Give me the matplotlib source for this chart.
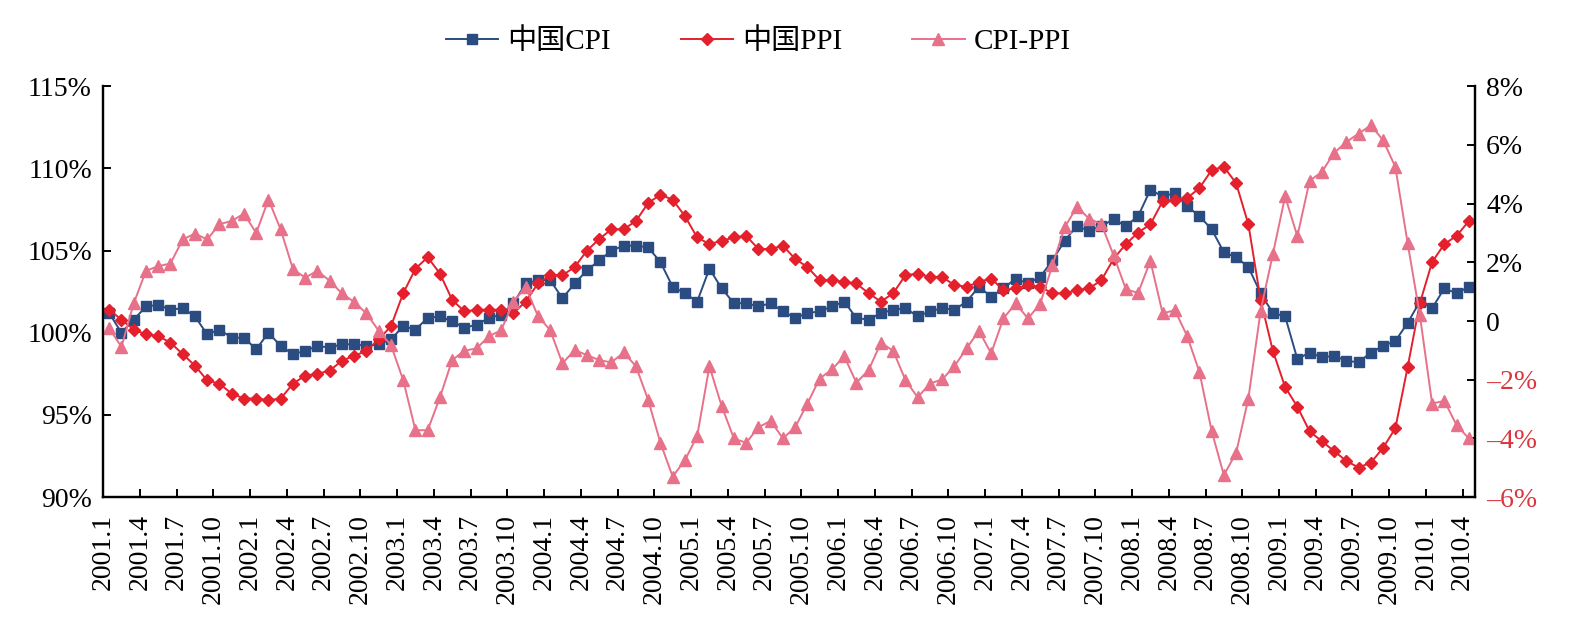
import numpy as np
import matplotlib
matplotlib.use("Agg")
import matplotlib.pyplot as plt
from matplotlib.lines import Line2D

# 2001.1 - 2010.4, monthly, YoY index (prev. year = 100)
cpi = [101.2, 100.0, 100.8, 101.6, 101.7, 101.4, 101.5, 101.0, 99.9, 100.2, 99.7, 99.7,
       99.0, 100.0, 99.2, 98.7, 98.9, 99.2, 99.1, 99.3, 99.3, 99.2, 99.3, 99.6,
       100.4, 100.2, 100.9, 101.0, 100.7, 100.3, 100.5, 100.9, 101.1, 101.8, 103.0, 103.2,
       103.2, 102.1, 103.0, 103.8, 104.4, 105.0, 105.3, 105.3, 105.2, 104.3, 102.8, 102.4,
       101.9, 103.9, 102.7, 101.8, 101.8, 101.6, 101.8, 101.3, 100.9, 101.2, 101.3, 101.6,
       101.9, 100.9, 100.8, 101.2, 101.4, 101.5, 101.0, 101.3, 101.5, 101.4, 101.9, 102.8,
       102.2, 102.7, 103.3, 103.0, 103.4, 104.4, 105.6, 106.5, 106.2, 106.5, 106.9, 106.5,
       107.1, 108.7, 108.3, 108.5, 107.7, 107.1, 106.3, 104.9, 104.6, 104.0, 102.4, 101.2,
       101.0, 98.4, 98.8, 98.5, 98.6, 98.3, 98.2, 98.8, 99.2, 99.5, 100.6, 101.9,
       101.5, 102.7, 102.4, 102.8]

ppi = [101.4, 100.8, 100.2, 99.9, 99.8, 99.4, 98.7, 98.0, 97.1, 96.9, 96.3, 96.0,
       96.0, 95.9, 96.0, 96.9, 97.4, 97.5, 97.7, 98.3, 98.6, 98.9, 99.6, 100.4,
       102.4, 103.9, 104.6, 103.6, 102.0, 101.3, 101.4, 101.4, 101.4, 101.2, 101.9, 103.0,
       103.5, 103.5, 104.0, 105.0, 105.7, 106.3, 106.3, 106.8, 107.9, 108.4, 108.1, 107.1,
       105.8, 105.4, 105.6, 105.8, 105.9, 105.1, 105.1, 105.3, 104.5, 104.0, 103.2, 103.2,
       103.1, 103.0, 102.4, 101.9, 102.4, 103.5, 103.6, 103.4, 103.4, 102.9, 102.8, 103.1,
       103.3, 102.6, 102.7, 102.9, 102.8, 102.4, 102.4, 102.6, 102.7, 103.2, 104.5, 105.4,
       106.1, 106.6, 108.0, 108.1, 108.2, 108.8, 109.9, 110.1, 109.1, 106.6, 102.0, 98.9,
       96.7, 95.5, 94.0, 93.4, 92.8, 92.2, 91.8, 92.1, 93.0, 94.2, 97.9, 101.8,
       104.3, 105.4, 105.9, 106.8]

cpi_ppi = [-0.25, -0.88, 0.6, 1.71, 1.87, 1.96, 2.78, 2.98, 2.78, 3.3, 3.41, 3.66,
           3.0, 4.14, 3.12, 1.77, 1.48, 1.71, 1.37, 0.94, 0.65, 0.26, -0.33, -0.82,
           -2.01, -3.72, -3.72, -2.6, -1.33, -1.01, -0.93, -0.52, -0.31, 0.65, 1.17, 0.17,
           -0.31, -1.44, -0.99, -1.16, -1.33, -1.41, -1.07, -1.54, -2.69, -4.15, -5.3, -4.74,
           -3.92, -1.54, -2.9, -4.0, -4.15, -3.62, -3.4, -4.0, -3.62, -2.81, -1.96, -1.65,
           -1.2, -2.1, -1.67, -0.74, -1.01, -2.01, -2.6, -2.13, -1.99, -1.54, -0.93, -0.33,
           -1.1, 0.09, 0.6, 0.09, 0.58, 1.9, 3.19, 3.89, 3.49, 3.3, 2.24, 1.08,
           0.96, 2.05, 0.26, 0.37, -0.51, -1.73, -3.74, -5.25, -4.49, -2.64, 0.35, 2.28,
           4.25, 2.89, 4.78, 5.08, 5.73, 6.1, 6.39, 6.67, 6.16, 5.25, 2.66, 0.2,
           -2.81, -2.72, -3.55, -4.0]

tick_labels = ["2001.1", "2001.4", "2001.7", "2001.10", "2002.1", "2002.4", "2002.7", "2002.10",
               "2003.1", "2003.4", "2003.7", "2003.10", "2004.1", "2004.4", "2004.7", "2004.10",
               "2005.1", "2005.4", "2005.7", "2005.10", "2006.1", "2006.4", "2006.7", "2006.10",
               "2007.1", "2007.4", "2007.7", "2007.10", "2008.1", "2008.4", "2008.7", "2008.10",
               "2009.1", "2009.4", "2009.7", "2009.10", "2010.1", "2010.4"]

BLUE = "#2B4C80"
RED = "#E3202B"
PINK = "#E8718A"
NEG = "#D9363E"

plt.rcParams["font.family"] = ["Liberation Serif", "Noto Sans CJK SC"]

fig = plt.figure(figsize=(15.86, 6.39), dpi=100)
ax = fig.add_axes([0.065, 0.222, 0.865, 0.643])
ax2 = ax.twinx()

x = np.arange(len(cpi))
ax.plot(x, cpi, color=BLUE, lw=1.4, marker="s", ms=7, label="中国CPI", zorder=3)
ax.plot(x, ppi, color=RED, lw=1.4, marker="D", ms=6, label="中国PPI", zorder=3)
ax2.plot(x, cpi_ppi, color=PINK, lw=1.4, marker="^", ms=9, label="CPI-PPI")

ax.set_xlim(-0.5, len(cpi) - 0.5)
ax.set_ylim(90, 115)
ax2.set_ylim(-6, 8)

ax.set_yticks(np.arange(90, 116, 5))
ax.set_yticklabels([f"{v}%" for v in range(90, 116, 5)], fontsize=20)
rticks = np.arange(-6, 9, 2)
ax2.set_yticks(rticks)
ax2.set_yticklabels([("0" if v == 0 else f"{v}%").replace("-", "\u2013") for v in rticks], fontsize=20)
for lab, v in zip(ax2.get_yticklabels(), rticks):
    if v < 0:
        lab.set_color(NEG)

ax.set_xticks(np.arange(0, len(cpi), 3) - 0.5)
ax.set_xticklabels(tick_labels, rotation=90, fontsize=20)

for a in (ax, ax2):
    a.spines["top"].set_visible(False)
    for s in ("left", "right", "bottom"):
        a.spines[s].set_linewidth(1.6)
    a.tick_params(direction="in", length=6, width=1.4, pad=8)
ax.tick_params(axis="x", pad=12)

handles = [Line2D([], [], color=BLUE, lw=1.4, marker="s", ms=7),
           Line2D([], [], color=RED, lw=1.4, marker="D", ms=6),
           Line2D([], [], color=PINK, lw=1.4, marker="^", ms=9)]
fig.legend(handles, ["中国CPI", "中国PPI", "CPI-PPI"], loc="center", ncol=3,
           bbox_to_anchor=(0.478, 0.935), frameon=False, fontsize=21,
           handlelength=1.8, handletextpad=0.3, columnspacing=2.4)

fig.savefig("out.png", dpi=100)
